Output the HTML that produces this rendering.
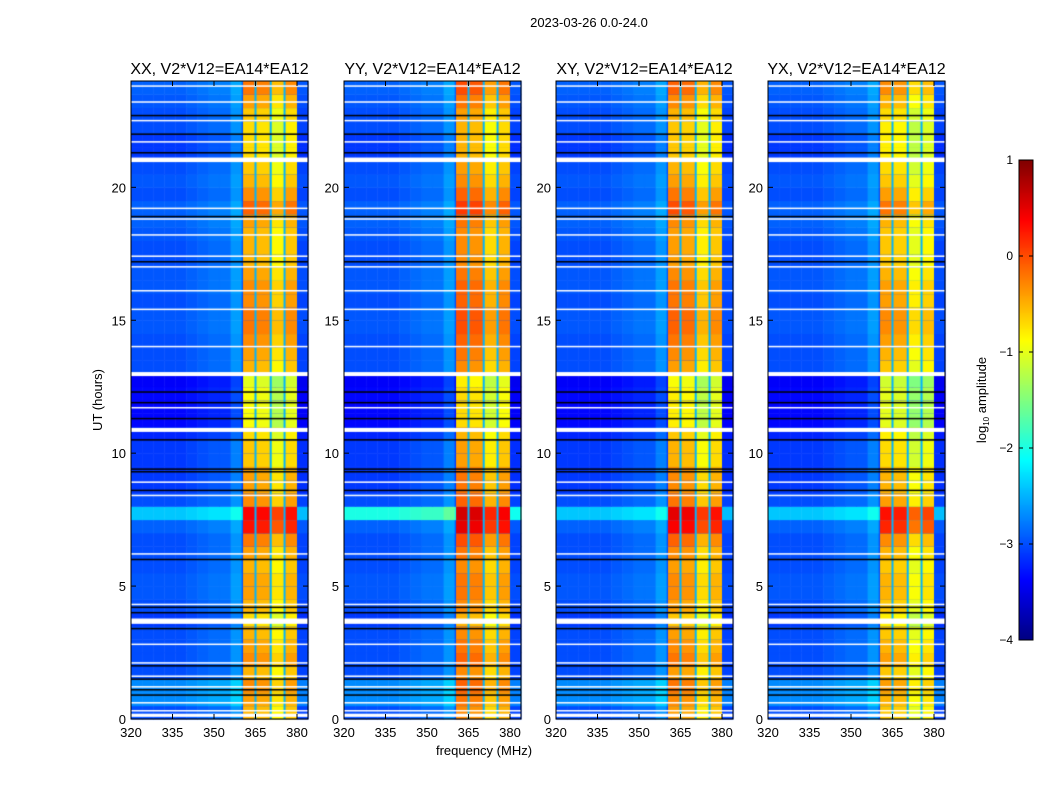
<!DOCTYPE html>
<html><head><meta charset="utf-8">
<style>
body{margin:0;background:#fff;width:1050px;height:800px;overflow:hidden;font-family:"Liberation Sans",sans-serif;}
#wrap{position:relative;width:1050px;height:800px;}
canvas{position:absolute;left:0;top:0;}
</style></head>
<body><div id="wrap">
<canvas id="cv" width="1050" height="800"></canvas>
<svg id="sv" width="1050" height="800" style="position:absolute;left:0;top:0"></svg>
</div>
<script>
// ---- data ----
const panelTitles = ["XX, V2*V12=EA14*EA12","YY, V2*V12=EA14*EA12","XY, V2*V12=EA14*EA12","YX, V2*V12=EA14*EA12"];
const xTicks = [320,335,350,365,380];
const yTicks = [0,5,10,15,20];
const cbTicks = [1,0,-1,-2,-3,-4];
// RFI sub-band edges (MHz)
const bandEdges = [360.5,365,370.5,375.5,380];
const gapFreqs = [365,370.5,375.5];
// per-panel sub-band offsets (log amplitude)
const bandOffsetXX = [-0.1,-0.15,-0.45,-0.2];
const bandOffsetYY = [0.0,-0.05,-0.4,-0.2];
const bandOffsetXY = [-0.05,-0.1,-0.45,-0.25];
const bandOffsetYX = [-0.15,-0.2,-0.55,-0.4];
const panelBandShift = [0,0.1,0.05,-0.05];
// half-hour rows, 0h..24h
const bandRow = [-0.4,-0.3,-0.2,-0.4,-0.2,-0.3,-0.4,-0.6,-0.4,-0.3,-0.3,-0.4,-0.3,-0.1,0.4,0.5,-0.2,-0.3,-0.3,-0.5,-0.5,-0.6,-0.8,-0.8,-0.8,-0.9,-0.4,-0.3,-0.2,-0.1,-0.1,-0.2,-0.2,-0.3,-0.4,-0.4,-0.4,-0.3,0.0,-0.2,-0.4,-0.5,-0.6,-0.6,-0.6,-0.5,-0.3,-0.1];
const bgRow = [-3.0,-2.7,-2.7,-3.0,-3.0,-3.0,-3.0,-3.1,-3.0,-2.95,-2.95,-3.0,-3.0,-3.0,-2.9,-2.4,-3.0,-3.1,-3.1,-3.1,-3.1,-3.2,-3.35,-3.35,-3.35,-3.4,-3.0,-3.0,-3.0,-2.95,-2.95,-3.0,-2.95,-2.95,-3.0,-3.0,-2.95,-2.9,-2.9,-3.0,-2.95,-3.0,-3.1,-3.1,-3.0,-3.0,-2.95,-2.9];
// 4 MHz bins 320..384
const bgCol = [0,0,0,0,0,0.05,0.1,0.15,0.15,0.35,0,0,0,0,0,-0.05];
const whiteLines = [0.3,0.6,1.2,1.6,2.1,2.8,4.3,6.2,8.4,8.9,11.7,14.0,15.4,16.1,17.0,17.4,18.2,18.8,19.2,21.7,22.5,23.2,23.8];
const whiteBands = [[0.08,0.2],[3.58,3.78],[10.8,10.95],[12.9,13.05],[20.95,21.12]];
const blackLines = [0.9,1.1,1.5,2.0,3.4,4.0,4.2,6.0,8.6,9.3,9.4,10.5,11.3,11.9,12.3,17.2,18.9,21.3,22.0,22.7];

const bandOffsets=[bandOffsetXX,bandOffsetYY,bandOffsetXY,bandOffsetYX];
const PL=[131,344,556,768], PW=177, PT=81, PB=719;
const fx=(f,k)=>PL[k]+(f-320)*(166/60);
const fy=h=>PB-h*(PB-PT)/24;
function jet(v){ // v in -4..1
  let t=Math.max(0,Math.min(1,(v+4)/5));
  const c=x=>Math.round(255*Math.max(0,Math.min(1,1.5-Math.abs(4*t-x))));
  return `rgb(${c(3)},${c(2)},${c(1)})`;
}
const ctx=document.getElementById('cv').getContext('2d');
const fMax=320+PW/(166/60);
for(let k=0;k<4;k++){
  for(let r=0;r<48;r++){
    const y0=fy((r+1)/2), y1=fy(r/2);
    for(let b=0;b<16;b++){
      const f0=320+b*4,f1=Math.min(f0+4,fMax);
      ctx.fillStyle=jet(bgRow[r]+bgCol[b]+(k==1&&r==15?0.4:0));
      ctx.fillRect(fx(f0,k),y0,fx(f1,k)-fx(f0,k)+0.5,y1-y0+0.5);
    }
    for(let b=0;b<4;b++){
      ctx.fillStyle=jet(bandRow[r]+bandOffsets[k][b]+panelBandShift[k]);
      ctx.fillRect(fx(bandEdges[b],k),y0,fx(bandEdges[b+1],k)-fx(bandEdges[b],k),y1-y0+0.5);
    }
  }
  ctx.fillStyle=jet(-2.5);
  gapFreqs.forEach(g=>ctx.fillRect(fx(g,k)-1,PT,2,PB-PT));
  ctx.fillStyle='#fff';
  whiteLines.forEach(h=>ctx.fillRect(PL[k],fy(h)-1,PW,1.5));
  whiteBands.forEach(w=>ctx.fillRect(PL[k],fy(w[1]),PW,fy(w[0])-fy(w[1])));
  ctx.fillStyle='#000';
  blackLines.forEach(h=>ctx.fillRect(PL[k],fy(h)-0.75,PW,1.5));
}
// colorbar
for(let y=160;y<640;y++){ctx.fillStyle=jet(1-(y-160)/480*5);ctx.fillRect(1019,y,14,1);}

const sv=document.getElementById('sv');
const NS='http://www.w3.org/2000/svg';
function el(tag,attrs,txt){const e=document.createElementNS(NS,tag);for(const a in attrs)e.setAttribute(a,attrs[a]);if(txt!==undefined)e.textContent=txt;sv.appendChild(e);return e;}
let t=el('text',{x:589,y:27,'text-anchor':'middle','font-size':13,'font-family':'Liberation Sans, sans-serif'},'2023-03-26 0.0-24.0');


for(let k=0;k<4;k++){
  const fr=el('rect',{x:PL[k],y:PT,width:PW,height:PB-PT,fill:'none',stroke:'#000','stroke-width':1});
  
  
  const tt=el('text',{x:PL[k]+PW/2,y:74,'text-anchor':'middle','font-size':16,'font-family':'Liberation Sans, sans-serif'},panelTitles[k]);
  
  
  xTicks.forEach(v=>{
    const x=fx(v,k);
    el('line',{x1:x,x2:x,y1:PB,y2:PB-5,stroke:'#000'});
    el('line',{x1:x,x2:x,y1:PT,y2:PT+5,stroke:'#000'});
    const l=el('text',{x:x,y:737,'text-anchor':'middle','font-size':13,'font-family':'Liberation Sans, sans-serif'},v);
    
    
  });
  yTicks.forEach(v=>{
    const y=fy(v);
    el('line',{x1:PL[k],x2:PL[k]+5,y1:y,y2:y,stroke:'#000'});
    el('line',{x1:PL[k]+PW,x2:PL[k]+PW-5,y1:y,y2:y,stroke:'#000'});
    const l=el('text',{x:PL[k]-5,y:y+5,'text-anchor':'end','font-size':13,'font-family':'Liberation Sans, sans-serif'},v);
    
    
  });
}
t=el('text',{x:484,y:755,'text-anchor':'middle','font-size':13,'font-family':'Liberation Sans, sans-serif'},'frequency (MHz)');


t=el('text',{x:0,y:0,transform:'translate(102,400) rotate(-90)','text-anchor':'middle','font-size':13,'font-family':'Liberation Sans, sans-serif'},'UT (hours)');


const cb=el('rect',{x:1019,y:160,width:14,height:480,fill:'none',stroke:'#000'});


cbTicks.forEach(v=>{
  const y=160+(1-v)/5*480;
  el('line',{x1:1019,x2:1023,y1:y,y2:y,stroke:'#000'});
  el('line',{x1:1033,x2:1029,y1:y,y2:y,stroke:'#000'});
  const l=el('text',{x:1013,y:y+4,'text-anchor':'end','font-size':12,'font-family':'Liberation Sans, DejaVu Sans, sans-serif'},v<0?'\u2212'+(-v):v);
  
  
});
t=el('text',{x:0,y:0,transform:'translate(986,400) rotate(-90)','text-anchor':'middle','font-size':13,'font-family':'Liberation Sans, sans-serif'});
t.innerHTML='log<tspan font-size="8" dy="3">10</tspan><tspan dy="-3"> amplitude</tspan>';


</script>
</body></html>
